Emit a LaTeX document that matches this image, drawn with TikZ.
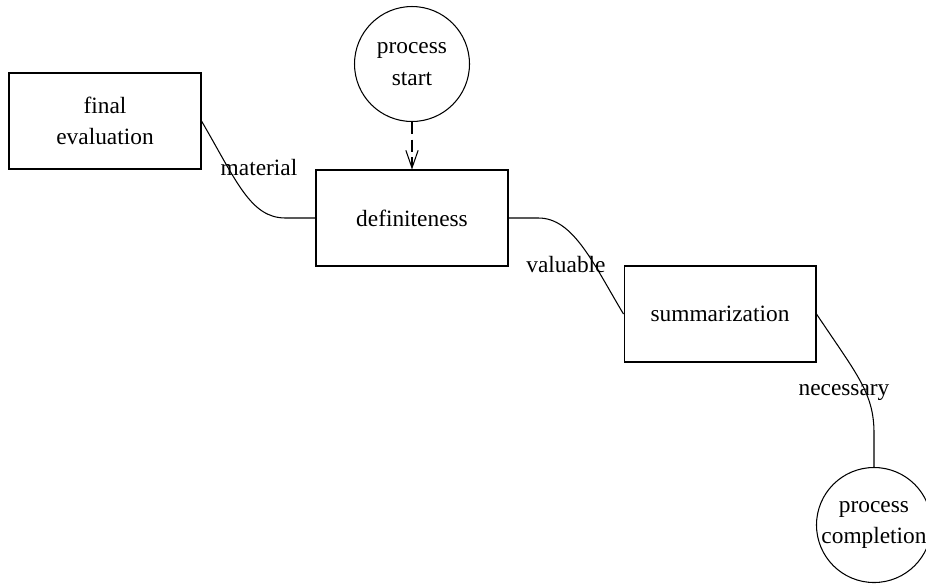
\documentclass[tikz,border=0pt]{standalone}
\usepackage{fontspec}
\setmainfont{Liberation Serif}
\usepackage{tikz}
\usetikzlibrary{arrows.meta,positioning,shapes.geometric,calc}

\tikzset{
  procbox/.style={draw, line width=0.6pt, minimum width=3.84cm, minimum height=1.92cm,
    align=center, font=\fontsize{13.3}{18}\selectfont},
  endpoint/.style={draw, circle, line width=0.6pt, minimum size=2.3cm, inner sep=0pt,
    align=center, font=\fontsize{13.3}{18}\selectfont},
  edgelbl/.style={anchor=base, inner sep=0pt, font=\fontsize{13.3}{18}\selectfont},
  link/.style={line width=0.6pt}
}

\begin{document}
\begin{tikzpicture}[x=0.02cm, y=-0.02cm]
  \useasboundingbox (0,0) rectangle (926,586);

  % Boxes
  \node[procbox] (finalEval) at (105, 121) {final\\evaluation};
  \node[procbox] (definite) at (412, 218) {definiteness};
  \node[procbox] (summ) at (720, 314) {summarization};

  % Start and end
  \node[endpoint] (procStart) at (412, 64) {process\\start};
  \node[endpoint] (procDone) at (874, 525) {process\\completion};

  % Labels
  \node[edgelbl] (matLbl) at (259, 175) {material};
  \node[edgelbl] (valLbl) at (566, 272) {valuable};
  \node[edgelbl] (necLbl) at (844, 395) {necessary};

  % Links
  \draw[link, dash pattern=on 7pt off 3pt, -{Straight Barb[length=10pt,width=7pt]}]
    (procStart) -- (definite);
  \draw[link] (finalEval.east) .. controls +(35,60) and +(-35,0) .. ($(definite.west)+(-30,0)$) -- (definite.west);
  \draw[link] (definite.east) -- +(30,0) .. controls +(35,0) and +(-30,-50) .. (summ.west);
  \draw[link] (summ.east) .. controls +(40,60) and +(0,-40) .. ($(procDone.north)+(0,-34)$) -- (procDone.north);
\end{tikzpicture}
\end{document}
